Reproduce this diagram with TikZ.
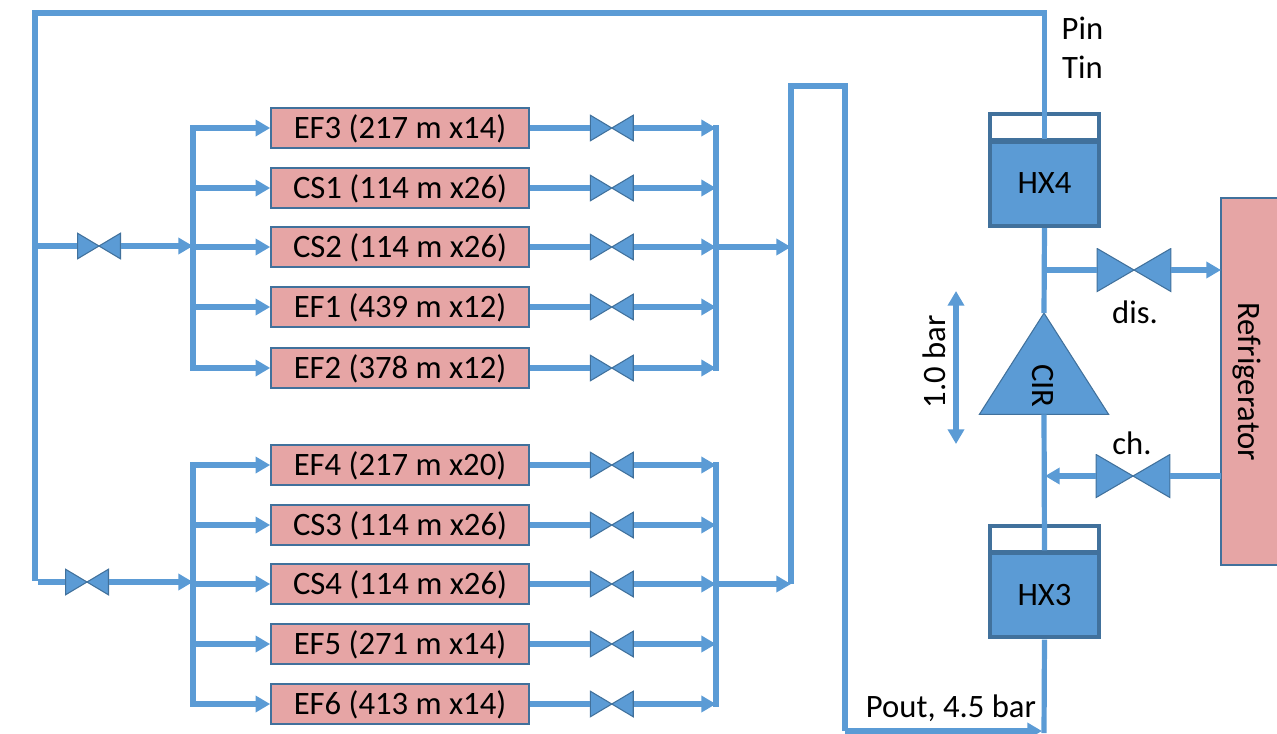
\documentclass[tikz,border=0pt]{standalone}
\usepackage{fontspec}
\setmainfont{Carlito}
\usetikzlibrary{positioning,calc,arrows.meta,shapes.geometric}
\definecolor{Pipe}{HTML}{5B9BD5}
\definecolor{Edge}{HTML}{41719C}
\definecolor{Rose}{HTML}{E6A5A5}
\tikzset{
  coil box/.style={draw=Edge,line width=1.2pt,fill=Rose,minimum width=193.5pt,
    minimum height=30pt,inner sep=0pt,text height=19pt,text depth=3.5pt,font=\fontsize{24.5}{28}\selectfont},
  valve/.style={minimum width=33pt,minimum height=20pt,inner sep=0pt,outer sep=0pt,
    path picture={\draw[draw=Edge,line width=.8pt,fill=Pipe]
      ([shift={(.4pt,.4pt)}]path picture bounding box.south west) --
      ([shift={(-.4pt,-.4pt)}]path picture bounding box.north east) --
      ([shift={(-.4pt,.4pt)}]path picture bounding box.south east) --
      ([shift={(.4pt,-.4pt)}]path picture bounding box.north west) -- cycle;}},
  big valve/.style={valve,minimum width=56pt,minimum height=33pt},
  pipe/.style={draw=Pipe,line width=3.9pt},
  pipe arrow/.style={pipe,-{Triangle[length=11pt,width=12pt]}},
  hx head/.style={draw=Edge,line width=3pt,fill=white,minimum width=81.5pt,minimum height=20pt,inner sep=0pt,outer sep=0pt},
  hx body/.style={draw=Edge,line width=3pt,fill=Pipe,minimum width=81.5pt,minimum height=63pt,inner sep=0pt,outer sep=0pt,
    font=\fontsize{24.5}{28}\selectfont},
  plain text/.style={inner sep=0pt,font=\fontsize{24.5}{28}\selectfont}
}
\begin{document}
\begin{tikzpicture}[x=.75pt,y=-.75pt,node distance=45pt]
  \path[use as bounding box,clip] (0,0) rectangle (1277,733);
  % buses
  \coordinate (busa) at (193,128);
  \coordinate (busb) at (193,465);
  \coordinate (outa) at (716,128);
  \coordinate (outb) at (716,465);
  \coordinate (main) at (791,86);
  \coordinate (rise) at (845,86);
  \coordinate (feed) at (35,13);
  % coils, upper group
  \node[coil box] (ef3) at (400,128) {EF3 (217 m x14)};
  \node[coil box] (cs1) at (400,188) {CS1 (114 m x26)};
  \node[coil box] (cs2) at (400,247) {CS2 (114 m x26)};
  \node[coil box] (ef1) at (400,307) {EF1 (439 m x12)};
  \node[coil box] (ef2) at (400,368) {EF2 (378 m x12)};
  % coils, lower group
  \node[coil box] (ef4) at (400,465) {EF4 (217 m x20)};
  \node[coil box] (cs3) at (400,525) {CS3 (114 m x26)};
  \node[coil box] (cs4) at (400,584) {CS4 (114 m x26)};
  \node[coil box] (ef5) at (400,644) {EF5 (271 m x14)};
  \node[coil box] (ef6) at (400,704) {EF6 (413 m x14)};
  % valves
  \node[valve,right=of ef3.east,anchor=west] (vef3) {};
  \node[valve,right=of cs1.east,anchor=west] (vcs1) {};
  \node[valve,right=of cs2.east,anchor=west] (vcs2) {};
  \node[valve,right=of ef1.east,anchor=west] (vef1) {};
  \node[valve,right=of ef2.east,anchor=west] (vef2) {};
  \node[valve,right=of ef4.east,anchor=west] (vef4) {};
  \node[valve,right=of cs3.east,anchor=west] (vcs3) {};
  \node[valve,right=of cs4.east,anchor=west] (vcs4) {};
  \node[valve,right=of ef5.east,anchor=west] (vef5) {};
  \node[valve,right=of ef6.east,anchor=west] (vef6) {};
  \node[valve] (vina) at (99,246) {};
  \node[valve] (vinb) at (87,582) {};
  % heat exchangers and the rest
  \node[hx head] (hx4top) at (1044.5,127) {};
  \node[hx body] (hx4) at (1044.5,183.5) {HX4};
  \node[hx head] (hx3top) at (1044.5,539) {};
  \node[hx body] (hx3) at (1044.5,595) {HX3};
  \node[draw=Edge,line width=.8pt,fill=Pipe,isosceles triangle,isosceles triangle stretches,
    shape border rotate=90,minimum width=97pt,minimum height=76pt,inner sep=0pt,outer sep=0pt] (cir) at (1044,379) {};
  \node[plain text,rotate=-90] (cirtext) at (1043,386) {CIR};
  \node[draw=Edge,line width=1.2pt,fill=Rose,minimum width=60pt,minimum height=275pt,inner sep=0pt,outer sep=0pt] (fridge) at (1261,381.5) {};
  \node[plain text,rotate=-90] (fridgetext) at (1247,382) {Refrigerator};
  \node[big valve] (vdis) at (1134,270) {};
  \node[big valve] (vch) at (1133,476) {};
  \coordinate (tapdis) at (1047,270);
  \coordinate (tapch) at (1045,476);
  \coordinate (barup) at (956,291);
  \coordinate (bardown) at (956,444);
  \coordinate (bottom) at (1044,733);
  % labels
  \node[plain text] (pin) at (1082.5,28) {Pin};
  \node[plain text] (tin) at (1082.5,67) {Tin};
  \node[plain text] (dis) at (1135,312) {dis.};
  \node[plain text] (ch) at (1132,443) {ch.};
  \node[plain text,rotate=90] (bar) at (934,362) {1.0 bar};
  \node[plain text] (pout) at (951,708) {Pout, 4.5 bar};
  % main lines
  \draw[pipe,shorten <=2pt] (hx4.north) -- (hx4top.north |- feed) -- (feed) -- (35,581);
  \draw[pipe,shorten <=2pt] (hx4.south) -- (cir.north);
  \draw[pipe,shorten >=2pt] (cir.south) -- (hx3.north);
  \draw[pipe,shorten <=2pt] (hx3.south) -- (bottom);
  \draw[pipe,line cap=rect] (busa) -- (busa |- ef2);
  \draw[pipe,line cap=rect] (busb) -- (busb |- ef6);
  \draw[pipe,line cap=rect] (outa) -- (outa |- ef2);
  \draw[pipe,line cap=rect] (outb) -- (outb |- ef6);
  \draw[pipe] (791,584) -- (main) -- (rise) -- (845,731);
  \draw[pipe arrow] (845,731) -- (1042,731);
  \draw[pipe] (35,246) -- (vina.west);
  \draw[pipe arrow] (vina.east) -- (vina.east -| busa);
  \draw[pipe] (38,582) -- (vinb.west);
  \draw[pipe arrow] (vinb.east) -- (vinb.east -| busb);
  \draw[pipe arrow] (outa |- cs2) -- (main |- cs2);
  \draw[pipe arrow] (outb |- cs4) -- (main |- cs4);
  \draw[pipe] (tapdis) -- (vdis.west);
  \draw[pipe arrow] (vdis.east) -- (vdis.east -| fridge.west);
  \draw[pipe] (vch.east -| fridge.west) -- (vch.east);
  \draw[pipe arrow] (vch.west) -- (tapch);
  \draw[pipe,{Triangle[length=11pt,width=12pt]}-{Triangle[length=11pt,width=12pt]}] (barup) -- (bardown);
  % upper group
  \draw[pipe arrow] (busa |- ef3) -- (ef3.west);
  \draw[pipe arrow] (busa |- cs1) -- (cs1.west);
  \draw[pipe arrow] (busa |- cs2) -- (cs2.west);
  \draw[pipe arrow] (busa |- ef1) -- (ef1.west);
  \draw[pipe arrow] (busa |- ef2) -- (ef2.west);
  \draw[pipe] (ef3.east) -- (vef3.west);
  \draw[pipe] (cs1.east) -- (vcs1.west);
  \draw[pipe] (cs2.east) -- (vcs2.west);
  \draw[pipe] (ef1.east) -- (vef1.west);
  \draw[pipe] (ef2.east) -- (vef2.west);
  \draw[pipe arrow] (vef3.east) -- (outa |- vef3);
  \draw[pipe arrow] (vcs1.east) -- (outa |- vcs1);
  \draw[pipe arrow] (vcs2.east) -- (outa |- vcs2);
  \draw[pipe arrow] (vef1.east) -- (outa |- vef1);
  \draw[pipe arrow] (vef2.east) -- (outa |- vef2);
  % lower group
  \draw[pipe arrow] (busb |- ef4) -- (ef4.west);
  \draw[pipe arrow] (busb |- cs3) -- (cs3.west);
  \draw[pipe arrow] (busb |- cs4) -- (cs4.west);
  \draw[pipe arrow] (busb |- ef5) -- (ef5.west);
  \draw[pipe arrow] (busb |- ef6) -- (ef6.west);
  \draw[pipe] (ef4.east) -- (vef4.west);
  \draw[pipe] (cs3.east) -- (vcs3.west);
  \draw[pipe] (cs4.east) -- (vcs4.west);
  \draw[pipe] (ef5.east) -- (vef5.west);
  \draw[pipe] (ef6.east) -- (vef6.west);
  \draw[pipe arrow] (vef4.east) -- (outb |- vef4);
  \draw[pipe arrow] (vcs3.east) -- (outb |- vcs3);
  \draw[pipe arrow] (vcs4.east) -- (outb |- vcs4);
  \draw[pipe arrow] (vef5.east) -- (outb |- vef5);
  \draw[pipe arrow] (vef6.east) -- (outb |- vef6);
\end{tikzpicture}
\end{document}
